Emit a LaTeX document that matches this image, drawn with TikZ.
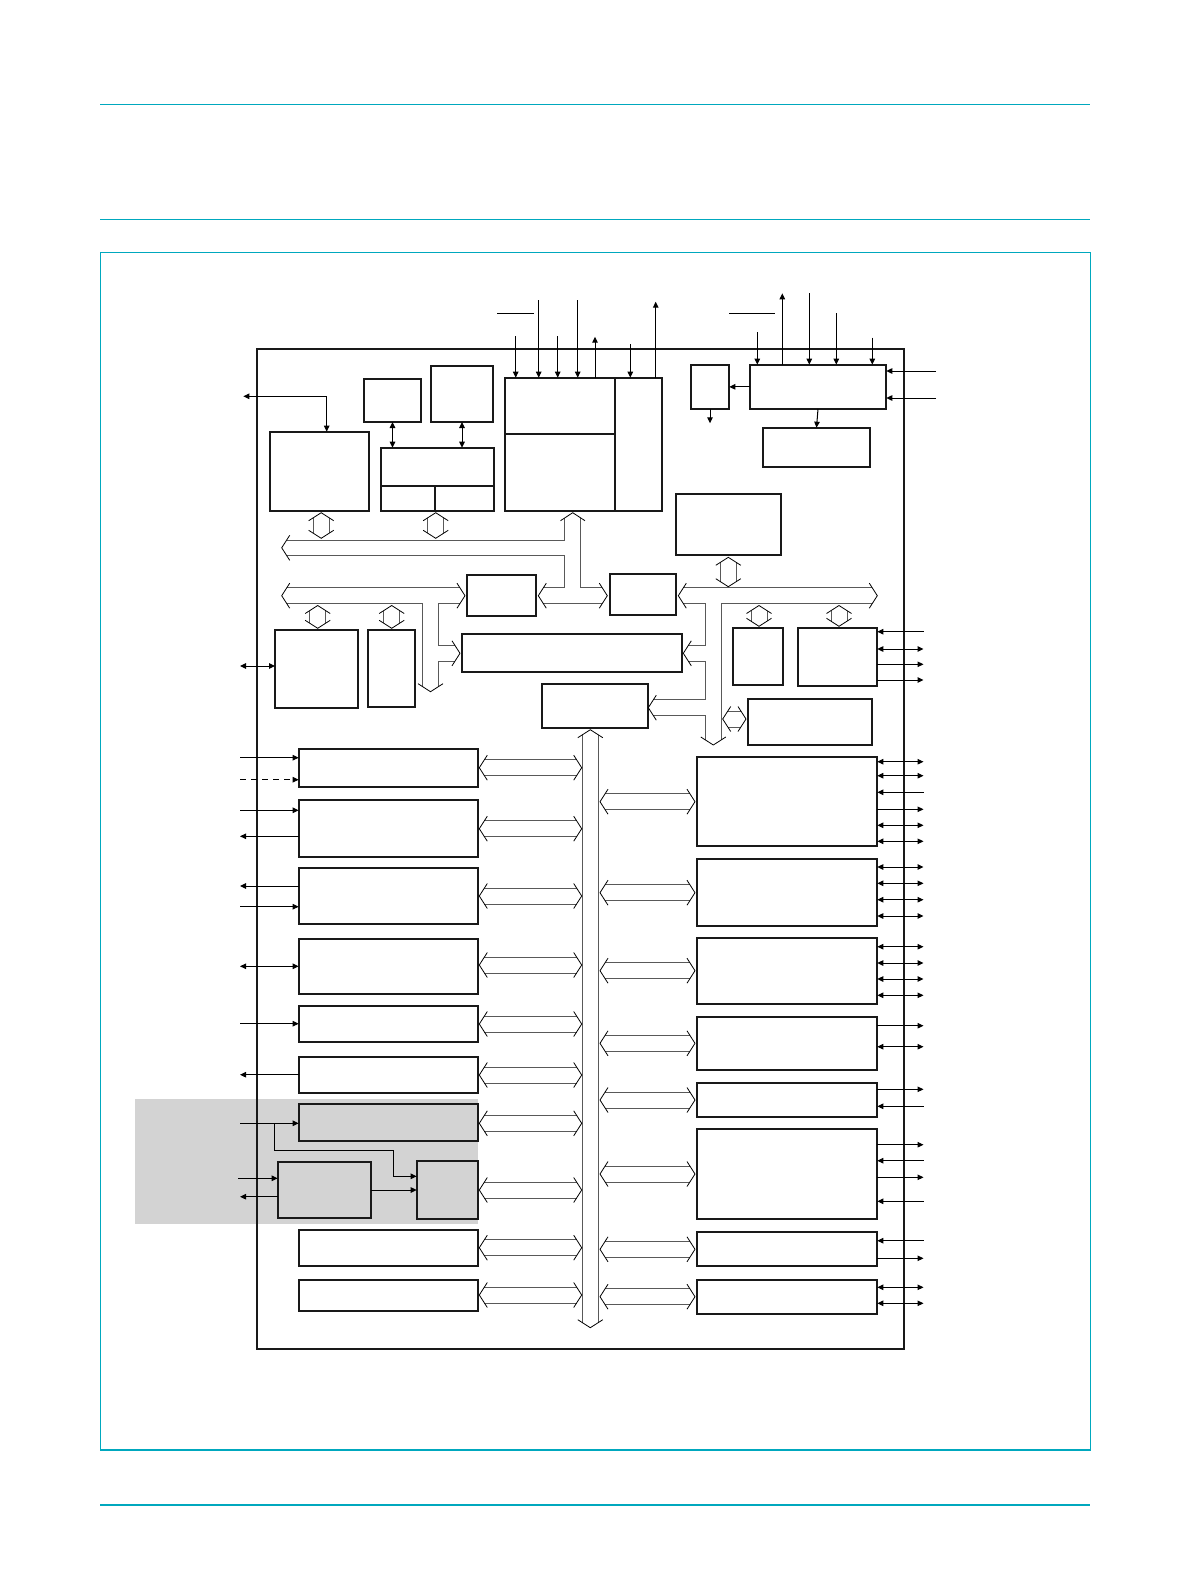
\documentclass[tikz,border=0pt]{standalone}
\usetikzlibrary{arrows.meta,fit}
\definecolor{nxpcyan}{RGB}{0,168,190}
\definecolor{graybox}{RGB}{211,211,211}
\tikzset{
  blk/.style={draw=black!90, line width=1.8pt, inner sep=0pt, outer sep=0pt, rectangle},
  pin/.style={line width=1pt, draw=black},
  >={Triangle[length=6pt,width=5.5pt]},
  busl/.style={draw=black!65, line width=1pt},
  busc/.style={draw=black, line width=0.8pt, line join=miter},
  cyanline/.style={draw=nxpcyan, line width=1.3pt},
}
\newcommand\bx[6][]{\node[blk,#1,fit={(#3,#4)(#5,#6)}] (#2) {};}
\newcommand\hbus[3]{%
  \draw[busl] (#1+5.1,#3-8) -- (#2-5.1,#3-8) (#1+5.1,#3+8) -- (#2-5.1,#3+8);
  \draw[busc] (#1+8,#3-12.5) -- (#1,#3) -- (#1+8,#3+12.5) (#2-8,#3-12.5) -- (#2,#3) -- (#2-8,#3+12.5);}
\newcommand\vbus[3]{%
  \draw[busl] (#1-8,#2+5.1) -- (#1-8,#3-5.1) (#1+8,#2+5.1) -- (#1+8,#3-5.1);
  \draw[busc] (#1-12.5,#2+8) -- (#1,#2) -- (#1+12.5,#2+8) (#1-12.5,#3-8) -- (#1,#3) -- (#1+12.5,#3-8);}
\newcommand\pR[3]{\draw[pin,#1] (#2.east |- 0,#3) -- (923.5,#3);}
\newcommand\pL[3]{\draw[pin,#1] (240,#3) -- (#2.west |- 0,#3);}
\begin{document}
\begin{tikzpicture}[x=1pt,y=-1pt]
\useasboundingbox (0,0) rectangle (1191,1587);
\fill[white] (0,0) rectangle (1191,1587);
% page rules and frame
\draw[cyanline] (100,104.3) -- (1090,104.3);
\draw[cyanline] (100,219.3) -- (1090,219.3);
\draw[cyanline] (100,1505) -- (1090,1505);
\draw[draw=nxpcyan, line width=0.8pt] (100.3,252.3) rectangle (1090,1450);
\draw[cyanline] (100.3,252.3) -- (1090,252.3) (100.3,1450) -- (1090,1450);
% shaded region
\fill[graybox] (135,1099) rectangle (478.3,1224);
% main box
\draw[line width=2pt, draw=black!90] (256.7,349) rectangle (904,1349);

% ---------- top left ----------
\bx{A}{269.7}{431.7}{369}{510.7}
\bx{B}{363.7}{378.7}{421.3}{422}
\bx{C}{430.7}{365.7}{493.3}{422}
\bx{D}{381}{447.7}{494.3}{485.7}
\bx{D1}{381}{485.7}{434.7}{510.7}
\bx{D2}{434.7}{485.7}{494.3}{510.7}
\bx{E1}{504.7}{377.7}{615.3}{433.7}
\bx{E2}{504.7}{433.7}{615.3}{510.7}
\bx{E3}{615.3}{377.7}{662.3}{510.7}
\draw[pin,<->] (243.3,396.3) -| (326.7,0 |- A.north);
\draw[pin,<->] (B.south) -- (B.south |- D.north);
\draw[pin,<->] (C.south) -- (C.south |- D.north);
\draw[pin,->] (515.7,336) -- (515.7,0 |- E1.north);
\draw[pin,->] (538.7,300) -- (538.7,0 |- E1.north);
\draw[pin,->] (557.7,336) -- (557.7,0 |- E1.north);
\draw[pin,->] (577.7,300) -- (577.7,0 |- E1.north);
\draw[pin,->] (595,0 |- E1.north) -- (595,336.7);
\draw[pin,->] (630.3,344) -- (630.3,0 |- E3.north);
\draw[pin,->] (655.7,0 |- E3.north) -- (655.7,301.7);
\draw[pin] (497,313.3) -- (534,313.3);

% ---------- top right ----------
\bx{F}{690.7}{364.7}{729.3}{409}
\bx{G}{749.7}{364.7}{886.3}{409}
\bx{H}{762.7}{427.7}{870.3}{467}
\draw[pin,->] (G.west) -- (F.east);
\draw[pin,->] (F.south) -- ++(0,14.3);
\draw[pin,->] (G.south) -- (H.north);
\draw[pin,->] (757.3,332) -- (757.3,0 |- G.north);
\draw[pin,->] (782.3,0 |- G.north) -- (782.3,293.3);
\draw[pin,->] (809.3,293.3) -- (809.3,0 |- G.north);
\draw[pin,->] (836.3,313.3) -- (836.3,0 |- G.north);
\draw[pin,->] (872.3,337.7) -- (872.3,0 |- G.north);
\draw[pin] (729,313.3) -- (775,313.3);
\draw[pin,->] (936,371) -- (G.east |- 0,371);
\draw[pin,->] (936,398) -- (G.east |- 0,398);

% ---------- middle ----------
\bx{P}{675.7}{494.3}{781.3}{555}
\bx{I}{466.7}{574.7}{536}{616}
\bx{K}{609.7}{573.7}{676}{615}
\bx{L}{461.7}{634}{682}{672}
\bx{M}{275}{629.7}{358.3}{708.3}
\bx{N}{367.7}{629.7}{415.3}{707}
\bx{O}{541.7}{683.7}{647.7}{728.3}
\bx{Q}{732.7}{627.7}{783.3}{685}
\bx{R}{797.7}{627.7}{877.3}{686}
\bx{S}{747.7}{699}{872.3}{745}

% bus 1 (from E, left, to I and K)
\draw[busl] (286.8,540) -- (564.7,540) -- (564.7,517.8);
\draw[busl] (580.7,517.8) -- (580.7,587.7) -- (602.2,587.7);
\draw[busl] (602.2,603.7) -- (543.4,603.7);
\draw[busl] (543.4,587.7) -- (564.7,587.7) -- (564.7,555.7) -- (286.8,555.7);
\draw[busc] (289.7,535.3) -- (281.7,547.8) -- (289.7,560.3);
\draw[busc] (560.5,520.7) -- (572.7,512.7) -- (585,520.7);
\draw[busc] (599.3,583.2) -- (607.3,595.7) -- (599.3,608.2);
\draw[busc] (546.3,583.2) -- (538.3,595.7) -- (546.3,608.2);

% bus 2 (left, to I, L, down)
\draw[busl] (286.8,587.7) -- (459.9,587.7);
\draw[busl] (459.9,603.7) -- (438.7,603.7) -- (438.7,645.3) -- (454.9,645.3);
\draw[busl] (454.9,661.3) -- (438.7,661.3) -- (438.7,686.6);
\draw[busl] (422.3,686.6) -- (422.3,603.7) -- (286.8,603.7);
\draw[busc] (289.7,583.2) -- (281.7,595.7) -- (289.7,608.2);
\draw[busc] (457,583.2) -- (465,595.7) -- (457,608.2);
\draw[busc] (452,640.8) -- (460,653.3) -- (452,665.8);
\draw[busc] (443,683.7) -- (430.5,691.7) -- (418,683.7);

% bus 3 (right, to K, L, O, down)
\draw[busl] (683.4,587.7) -- (872.2,587.7);
\draw[busl] (872.2,603.7) -- (721.7,603.7) -- (721.7,739.9);
\draw[busl] (705,739.9) -- (705,715.7) -- (653.4,715.7);
\draw[busl] (653.4,699.7) -- (705,699.7) -- (705,661.3) -- (688.4,661.3);
\draw[busl] (688.4,645.3) -- (705,645.3) -- (705,603.7) -- (683.4,603.7);
\draw[busc] (686.3,583.2) -- (678.3,595.7) -- (686.3,608.2);
\draw[busc] (869.3,583.2) -- (877.3,595.7) -- (869.3,608.2);
\draw[busc] (725.8,737) -- (713.3,745) -- (700.8,737);
\draw[busc] (656.3,695.2) -- (648.3,707.7) -- (656.3,720.2);
\draw[busc] (691.3,640.8) -- (683.3,653.3) -- (691.3,665.8);

% small vertical bus links
\vbus{321.2}{512.7}{538.3}
\vbus{435.7}{512.7}{538.3}
\vbus{728.3}{557.3}{586.7}
\vbus{317.7}{605.5}{628.3}
\vbus{391.7}{605.5}{628.3}
\vbus{759}{605.5}{626.3}
\vbus{839}{605.5}{626.3}
\hbus{722.7}{746}{719}

\draw[pin,<->] (240,666) -- (M.west |- 0,666);
\pR{<-}{R}{631.7}
\pR{<->}{R}{649}
\pR{->}{R}{664.3}
\pR{->}{R}{680}

% main vertical bus
\draw[busl] (582.3,734.8) -- (582.3,1322.6) (598.3,734.8) -- (598.3,1322.6);
\draw[busc] (577.8,737.7) -- (590.3,729.7) -- (602.8,737.7);
\draw[busc] (577.8,1319.7) -- (590.3,1327.7) -- (602.8,1319.7);

% ---------- left column ----------
\bx{La}{298.7}{749}{478.3}{787}
\bx{Lb}{298.7}{800}{478.3}{856.7}
\bx{Lc}{298.7}{867.7}{478.3}{923.7}
\bx{Ld}{298.7}{939}{478.3}{994}
\bx{Le}{298.7}{1005.7}{478.3}{1042}
\bx{Lf}{298.7}{1056.7}{478.3}{1092.7}
\bx[fill=graybox]{Lg}{298.7}{1104.3}{478.3}{1141}
\bx[fill=graybox]{Lh}{416.7}{1160.7}{478.3}{1219.3}
\bx[fill=graybox]{Li}{277.7}{1161.7}{371.3}{1218}
\bx{Lj}{298.7}{1229.7}{478.3}{1265.7}
\bx{Lk}{298.7}{1280}{478.3}{1310.7}

\foreach \yc in {767.7,828.7,896,965,1024,1075,1123.3,1190,1247.7,1295}
  {\hbus{479.3}{581.7}{\yc}}

\pL{->}{La}{757.7}
\draw[pin,->,dash pattern=on 6pt off 5pt] (240,779.7) -- (La.west |- 0,779.7);
\pL{->}{Lb}{810.3}
\pL{<-}{Lb}{836.3}
\pL{<-}{Lc}{886}
\pL{->}{Lc}{906.7}
\pL{<->}{Ld}{966.3}
\pL{->}{Le}{1023.7}
\pL{<-}{Lf}{1074.7}
\pL{->}{Lg}{1123.3}
\draw[pin,->] (274.3,1123.3) -- (274.3,1150.3) -- (393.3,1150.3) -- (393.3,1176.3) -- (Lh.west |- 0,1176.3);
\draw[pin,->] (238.3,1178.3) -- (Li.west |- 0,1178.3);
\draw[pin,->] (Li.west |- 0,1196.7) -- (240,1196.7);
\draw[pin,->] (Li.east |- 0,1190) -- (Lh.west |- 0,1190);

% ---------- right column ----------
\bx{Ra}{696.7}{756.7}{877.3}{846}
\bx{Rb}{696.7}{858.7}{877.3}{926}
\bx{Rc}{696.7}{937.7}{877.3}{1004}
\bx{Rd}{696.7}{1016.7}{877.3}{1070}
\bx{Re}{696.7}{1082.7}{877.3}{1117}
\bx{Rf}{696.7}{1128.7}{877.3}{1219}
\bx{Rg}{696.7}{1231.7}{877.3}{1266}
\bx{Rh}{696.7}{1280}{877.3}{1314}

\foreach \yc in {801.7,892.7,970.7,1043.3,1100,1174,1249.3,1296.7}
  {\hbus{600}{695}{\yc}}

\pR{<->}{Ra}{761.7}
\pR{<->}{Ra}{775.7}
\pR{<-}{Ra}{792.3}
\pR{->}{Ra}{809.3}
\pR{<->}{Ra}{825.3}
\pR{<->}{Ra}{841.3}
\pR{<->}{Rb}{867}
\pR{<->}{Rb}{883.3}
\pR{<->}{Rb}{899.7}
\pR{<->}{Rb}{916}
\pR{<->}{Rc}{946.7}
\pR{<->}{Rc}{963}
\pR{<->}{Rc}{979}
\pR{<->}{Rc}{995.3}
\pR{->}{Rd}{1025.7}
\pR{<->}{Rd}{1046.7}
\pR{->}{Re}{1089.3}
\pR{<-}{Re}{1106.3}
\pR{->}{Rf}{1144.7}
\pR{<-}{Rf}{1160.7}
\pR{->}{Rf}{1177.3}
\pR{<-}{Rf}{1201.3}
\pR{<-}{Rg}{1240.7}
\pR{->}{Rg}{1258.3}
\pR{<->}{Rh}{1287.3}
\pR{<->}{Rh}{1303.3}
\end{tikzpicture}
\end{document}
